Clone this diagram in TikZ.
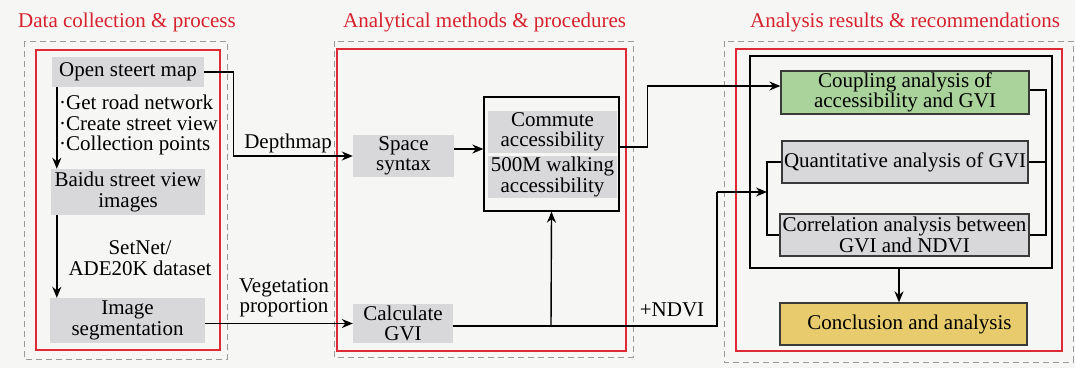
\documentclass[tikz,border=0pt]{standalone}
\usepackage{fontspec}
\setmainfont{Liberation Serif}
\usetikzlibrary{arrows.meta,calc}
\definecolor{bg}{HTML}{F6F6F4}
\definecolor{boxgray}{HTML}{D8D7DA}
\definecolor{titlered}{HTML}{D7212E}
\definecolor{framered}{HTML}{DD2A35}
\definecolor{dashgray}{HTML}{9A9A9A}
\definecolor{cgreen}{HTML}{A9D39A}
\definecolor{cyellow}{HTML}{E7CB6C}
\definecolor{outl}{HTML}{3A3A3A}
\begin{document}
\begin{tikzpicture}[x=1pt,y=-1pt,
  font=\fontsize{21}{20.5}\selectfont,
  gbox/.style={fill=boxgray, inner sep=0pt, align=center},
  obox/.style={draw=outl, line width=1.3pt, inner sep=0pt, align=center},
  title/.style={text=titlered, anchor=west, inner sep=0pt},
  lbl/.style={inner sep=0pt, align=center},
  dframe/.style={draw=dashgray, line width=1pt, dash pattern=on 6pt off 4pt},
  rframe/.style={draw=framered, line width=1.3pt},
  arr/.style={-{Stealth[length=11pt,width=9pt]}, line width=1.4pt},
  ln/.style={line width=1.4pt}]
\useasboundingbox (0,0) rectangle (1075,368);
\fill[bg] (0,0) rectangle (1075,368);

% titles
\node[title] (t1) at (18,22) {Data collection \& process};
\node[title] (t2) at (343,22) {Analytical methods \& procedures};
\node[title] (t3) at (750,22) {Analysis results \& recommendations};

% frames
\draw[dframe] (24,41) rectangle (227,359);
\draw[rframe] (36,50) rectangle (220,350);
\draw[dframe] (334,41) rectangle (633,357);
\draw[rframe] (337,49) rectangle (626,351);
\draw[dframe] (724,41) rectangle (1073,362);
\draw[rframe] (736,49) rectangle (1062,351);

% section 1
\node[gbox, minimum width=152pt, minimum height=30pt] (osm) at (128,72) {Open steert map};
\node[gbox, minimum width=154pt, minimum height=46pt] (baidu) at (128,192) {Baidu street view\\images};
\node[gbox, minimum width=155pt, minimum height=45pt] (seg) at (127.5,320.5) {Image\\segmentation};
\node[lbl, anchor=west, align=left] (steps) at (59,125) {·Get road network\\·Create street view\\·Collection points};
\node[lbl] (setnet) at (140,258) {SetNet/\\ADE20K dataset};

% section 2
\node[gbox, minimum width=101pt, minimum height=42pt] (space) at (403.5,156) {Space\\syntax};
\node[gbox, minimum width=100pt, minimum height=39pt] (gvi) at (403,323.5) {Calculate\\GVI};
\node[draw=black, line width=1.3pt, minimum width=135pt, minimum height=114pt, inner sep=0pt] (commute) at (551.5,154) {};
\node[gbox, minimum width=129pt, minimum height=42pt] (com1) at (552.5,132) {Commute\\accessibility};
\node[gbox, minimum width=129pt, minimum height=42pt] (com2) at (552.5,177) {500M walking\\accessibility};

% section 3
\node[draw=black, line width=1.3pt, minimum width=302pt, minimum height=212pt, inner sep=0pt] (group) at (901,162) {};
\node[obox, fill=cgreen, minimum width=248pt, minimum height=43pt] (coup) at (905,92.5) {Coupling analysis of\\accessibility and GVI};
\node[obox, fill=boxgray, minimum width=246pt, minimum height=42pt] (quant) at (905,162) {Quantitative analysis of GVI};
\node[obox, fill=boxgray, minimum width=249pt, minimum height=42pt] (corr) at (904.5,235) {Correlation analysis between\\GVI and NDVI};
\node[obox, fill=cyellow, minimum width=247pt, minimum height=42pt] (concl) at (903.5,324) {\hspace{12pt}Conclusion and analysis};

% labels
\node[lbl] (depth) at (288,143) {Depthmap};
\node[lbl] (veg) at (284,298) {Vegetation\\proportion};
\node[lbl] (ndvi) at (672,310) {+NDVI};

% connectors
\draw[arr] ([xshift=5pt]osm.south west) -- ([xshift=5pt]osm.south west |- baidu.north);
\draw[arr] ([xshift=6pt]baidu.south west) -- ([xshift=6pt]baidu.south west |- seg.north);
\draw[arr] (osm.east) -- ++(29,0) |- (space.west);
\draw[arr] (seg.east |- gvi.west) -- (gvi.west);
\draw[arr] ([yshift=7pt]space.east) -- ([yshift=7pt]space.east -| commute.west);
\coordinate (br) at (551,326);
\draw[arr] (br) -- (commute.south);
\coordinate (qj) at (767,192);
\draw[ln] ([yshift=-2.5pt]gvi.east) -- (br) -- (717,326) -- (717,192);
\draw[arr] (717,192) -- (qj);
\draw[arr] ([yshift=7pt]commute.east) -- ++(28,0) |- ([yshift=6.5pt]coup.west);
% brackets
\draw[ln] ([yshift=2.5pt]coup.east) -- (1046,90) -- (1046,235) -- (corr.east);
\draw[ln] (quant.east) -- (1046,162);
\draw[ln] (quant.west) -- (767,162) -- (767,235) -- (corr.west);
\draw[arr] (group.south -| 899,0) -- (concl.north -| 899,0);
\end{tikzpicture}
\end{document}
